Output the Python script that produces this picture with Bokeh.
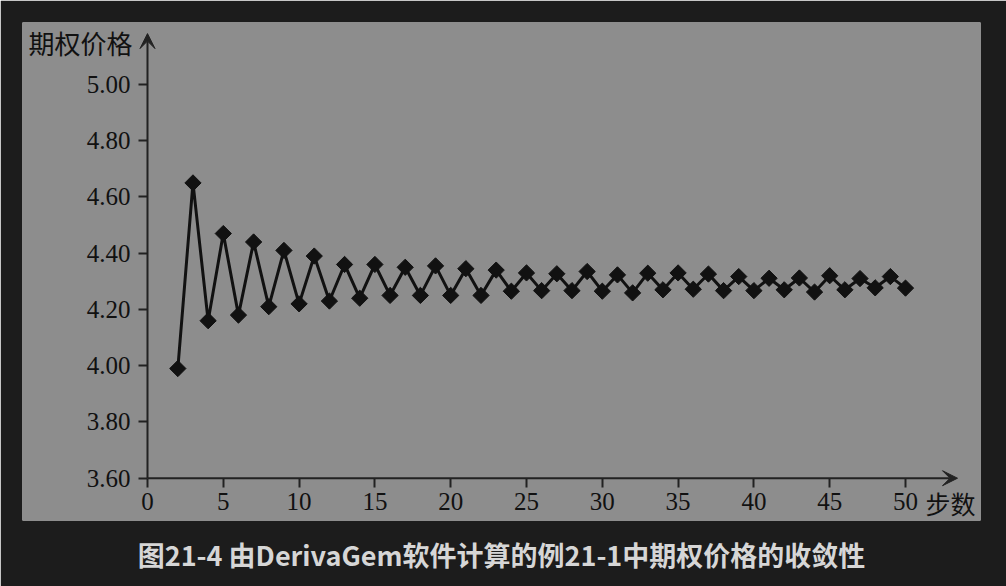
from bokeh.plotting import figure
from bokeh.models import (FixedTicker, NumeralTickFormatter, Arrow, VeeHead, Label,
                          Title, Range1d, ColumnDataSource)
from bokeh.embed import file_html
from bokeh.resources import INLINE
import numpy as np

steps = list(range(2, 51))
prices = [3.99, 4.65, 4.16, 4.47, 4.18, 4.44, 4.21, 4.41, 4.22, 4.39, 4.23, 4.36,
          4.24, 4.36, 4.25, 4.35, 4.25,
          4.355, 4.25, 4.345, 4.25, 4.34, 4.265, 4.33, 4.267, 4.327, 4.267, 4.335,
          4.265, 4.323, 4.259, 4.329, 4.27, 4.33, 4.272, 4.326, 4.267, 4.317, 4.267,
          4.311, 4.27, 4.312, 4.262, 4.32, 4.27, 4.31, 4.277, 4.317, 4.276]
x_ticks = [0, 5, 10, 15, 20, 25, 30, 35, 40, 45, 50]
y_ticks = [3.6, 3.8, 4.0, 4.2, 4.4, 4.6, 4.8, 5.0]
y_label = "期权价格"
x_label = "步数"
caption = "图21-4 由DerivaGem软件计算的例21-1中期权价格的收敛性"

GRAY = "#8d8d8d"
DARK = "#1c1c1c"
INK = "#111111"

p = figure(frame_width=958, frame_height=498, output_backend="svg", toolbar_location=None,
           x_range=Range1d(-8.245, 54.947), y_range=Range1d(3.4496, 5.2205),
           min_border_left=22, min_border_right=26, min_border_top=22, min_border_bottom=66,
           background_fill_color=GRAY, border_fill_color=DARK, outline_line_color=None)
p.grid.visible = False

for ax in (p.xaxis[0], p.yaxis[0]):
    ax.axis_line_color = None
    ax.major_tick_line_color = "#222222"
    ax.major_tick_line_width = 2
    ax.major_tick_in = 0
    ax.major_tick_out = 9
    ax.minor_tick_line_color = None
    ax.major_label_text_font = "Liberation Serif"
    ax.major_label_text_font_size = "25px"
    ax.major_label_text_color = INK

p.xaxis.fixed_location = 3.6
p.yaxis.fixed_location = 0
p.xaxis.ticker = FixedTicker(ticks=x_ticks)
p.yaxis.ticker = FixedTicker(ticks=y_ticks)
p.yaxis.formatter = NumeralTickFormatter(format="0.00")
p.xaxis.major_label_standoff = 6
p.yaxis.major_label_standoff = 8

# axis lines with arrows
p.add_layout(Arrow(end=VeeHead(size=15, fill_color="#222222", line_color="#222222"),
                   x_start=0, y_start=3.6, x_end=0, y_end=5.181,
                   line_color="#222222", line_width=2))
p.add_layout(Arrow(end=VeeHead(size=15, fill_color="#222222", line_color="#222222"),
                   x_start=0, y_start=3.6, x_end=53.43, y_end=3.6,
                   line_color="#222222", line_width=2))

src = ColumnDataSource(dict(x=steps, y=prices))
p.line("x", "y", source=src, line_color=INK, line_width=3)
p.scatter("x", "y", source=src, marker="square", size=11.5, angle=np.pi / 4,
          fill_color=INK, line_color=INK)

p.add_layout(Label(x=-0.99, y=5.149, text=y_label, text_align="right", text_baseline="middle",
                   text_font="Noto Sans CJK SC", text_font_size="26px", text_color=INK))
p.add_layout(Label(x=51.32, y=3.5136, text=x_label, text_align="left", text_baseline="middle",
                   text_font="Noto Sans CJK SC", text_font_size="25px", text_color=INK))

t = Title(text=caption, align="center", text_font="Noto Sans CJK SC", text_font_size="27px",
          text_font_style="bold", text_color="#d6d6d6", standoff=25, offset=0)
p.add_layout(t, "below")

open("out.html", "w").write(file_html(p, INLINE))
